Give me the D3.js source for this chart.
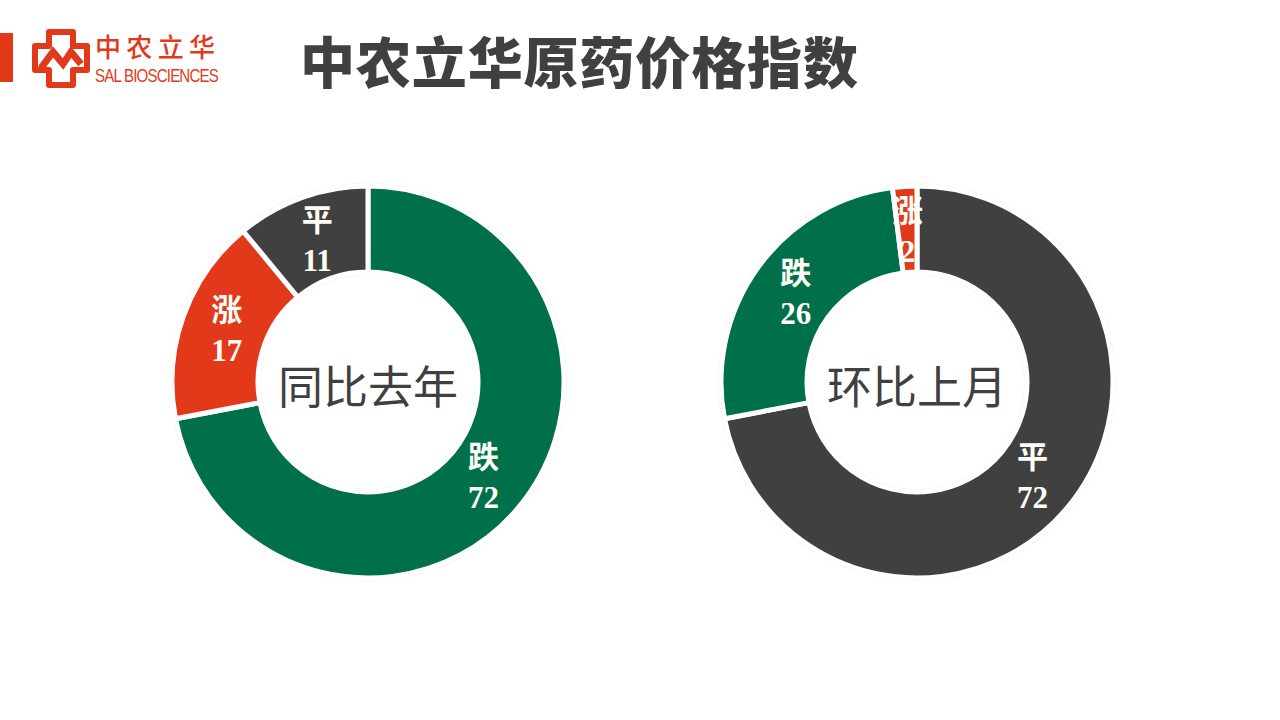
<!DOCTYPE html>
<html><head><meta charset="utf-8">
<script src="https://cdn.jsdelivr.net/npm/d3@7/dist/d3.min.js"></script>
<style>body{margin:0;background:#fff;}svg{display:block;}</style>
</head><body>
<svg id="c" width="1280" height="720"></svg>
<script>
const titleText = "中农立华原药价格指数";
const chart1Title = "同比去年";
const chart1Cats = ["跌", "涨", "平"];
const chart1Vals = [72, 17, 11];
const chart2Title = "环比上月";
const chart2Cats = ["平", "跌", "涨"];
const chart2Vals = [72, 26, 2];
const colorMap = {"跌": "#00704a", "涨": "#e2391b", "平": "#404040"};

const svg = d3.select("#c");
const CJK = "'Noto Sans CJK SC', 'Noto Sans', sans-serif";
const SERIF = "'Liberation Serif', 'DejaVu Serif', 'Noto Sans CJK SC', serif";

// left red bar
svg.append("rect").attr("x", 0).attr("y", 33).attr("width", 13).attr("height", 49).attr("fill", "#e2391b");

// logo icon
const logo = svg.append("g").attr("transform", "translate(33,30)");
logo.append("path")
  .attr("d", "M16,2 H40 V16 H54 V40 H40 V55 H16 V40 H2 V16 H16 Z")
  .attr("fill", "none").attr("stroke", "#e2391b").attr("stroke-width", 6).attr("stroke-linejoin", "round");
logo.append("path")
  .attr("d", "M8,38 L20,22 L30,34 L38,22 L48,34")
  .attr("fill", "none").attr("stroke", "#e2391b").attr("stroke-width", 7).attr("stroke-linejoin", "miter");
svg.append("text").attr("x", 95).attr("y", 45).attr("dominant-baseline", "central")
  .attr("font-family", CJK).attr("font-size", 26).attr("font-weight", 500)
  .attr("fill", "#e2391b").attr("textLength", 120).text("中农立华");
svg.append("text").attr("x", 95).attr("y", 82)
  .attr("font-family", "'Liberation Sans', Arial, sans-serif").attr("font-size", 19)
  .attr("fill", "#e2391b").attr("textLength", 123).attr("lengthAdjust", "spacingAndGlyphs")
  .attr("letter-spacing", -1).text("SAL BIOSCIENCES");

// title
svg.append("text").attr("x", 300).attr("y", 59).attr("dominant-baseline", "central")
  .attr("font-family", CJK).attr("font-size", 55).attr("font-weight", 900)
  .attr("fill", "#404040").attr("textLength", 558).text(titleText);

function donut(cx, cy, cats, vals, title) {
  const data = cats.map((c, i) => ({cat: c, val: vals[i]}));
  const pie = d3.pie().value(d => d.val).sort(null).startAngle(0).endAngle(2 * Math.PI);
  const rOuter = 196, rInner = 110;
  const arc = d3.arc().innerRadius(rInner).outerRadius(rOuter);
  const labelArc = d3.arc().innerRadius(150).outerRadius(150);
  const g = svg.append("g").attr("transform", `translate(${cx},${cy})`);
  g.append("circle").attr("r", rOuter + 1.5).attr("fill", "none").attr("stroke", "#f7f3e6").attr("stroke-width", 3);
  g.append("circle").attr("r", rInner - 1.5).attr("fill", "none").attr("stroke", "#f7f3e6").attr("stroke-width", 3);
  const arcs = pie(data);
  g.selectAll("path.s").data(arcs).enter().append("path").attr("class", "s")
    .attr("d", arc).attr("fill", d => colorMap[d.data.cat])
    .attr("stroke", "#ffffff").attr("stroke-width", 5).attr("stroke-linejoin", "miter");
  const lbl = g.selectAll("text.l").data(arcs).enter().append("text").attr("class", "l")
    .attr("transform", d => `translate(${labelArc.centroid(d)})`)
    .attr("text-anchor", "middle").attr("fill", "#fffdf6")
    .attr("font-family", SERIF).attr("font-size", 31).attr("font-weight", "bold");
  lbl.append("tspan").attr("x", 0).attr("y", -10).text(d => d.data.cat);
  lbl.append("tspan").attr("x", 0).attr("y", 30).text(d => d.data.val);
  g.append("text").attr("text-anchor", "middle").attr("dominant-baseline", "central")
    .attr("y", 2).attr("font-family", CJK).attr("font-size", 45).attr("fill", "#404040")
    .text(title);
}
donut(368, 382, chart1Cats, chart1Vals, chart1Title);
donut(917, 382, chart2Cats, chart2Vals, chart2Title);
</script>
</body></html>
